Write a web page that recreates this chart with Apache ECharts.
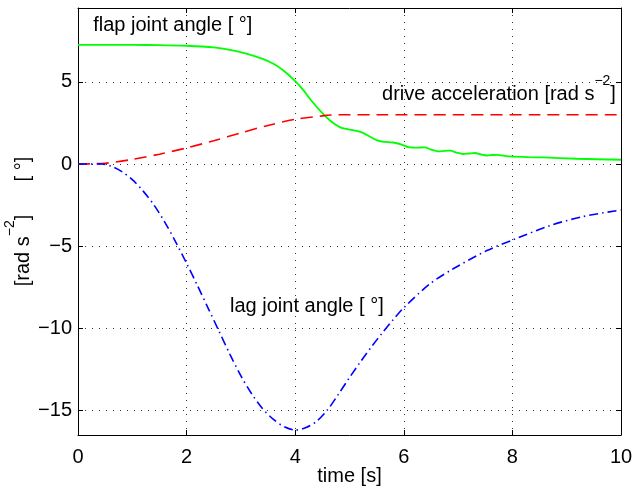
<!DOCTYPE html>
<html>
<head>
<meta charset="utf-8">
<script src="https://cdn.jsdelivr.net/npm/echarts@6/dist/echarts.min.js"></script>
<style>
  html, body { margin: 0; padding: 0; background: #fff; }
  #chart { width: 633px; height: 486px; }
</style>
</head>
<body>
<div id="chart"></div>
<script>
// flap joint angle [deg] vs time [s]
const flapTime = [0, 1.0, 1.5, 2.0, 2.5, 2.8, 3.1, 3.4, 3.6, 3.8, 4.0, 4.15, 4.3, 4.47, 4.64, 4.82, 5.0, 5.13, 5.25, 5.38, 5.5, 5.6, 5.8, 5.95, 6.11, 6.25, 6.39, 6.5, 6.63, 6.75, 6.85, 6.97, 7.09, 7.2, 7.31, 7.42, 7.53, 7.63, 7.72, 7.85, 7.96, 8.3, 8.57, 9.18, 10];
const flapAngle = [7.25, 7.25, 7.24, 7.2, 7.1, 6.95, 6.72, 6.4, 6.1, 5.65, 5.05, 4.5, 3.85, 3.2, 2.65, 2.25, 2.1, 2.02, 1.9, 1.66, 1.45, 1.36, 1.31, 1.2, 1.01, 1.0, 1.01, 0.88, 0.77, 0.8, 0.81, 0.7, 0.61, 0.64, 0.67, 0.58, 0.52, 0.55, 0.56, 0.5, 0.46, 0.42, 0.4, 0.32, 0.26];

// drive acceleration [rad s^-2]
const driveTime = [0, 0.5, 1.0, 1.5, 2.0, 2.5, 3.0, 3.5, 4.0, 4.5, 4.8, 5.5, 7, 8.5, 10];
const driveAcc = [0, 0.05, 0.28, 0.6, 0.98, 1.42, 1.9, 2.35, 2.72, 2.93, 3.0, 3.0, 3.0, 3.0, 3.0];

// lag joint angle [deg]
const lagTime = [0, 0.44, 0.6, 0.8, 1.0, 1.2, 1.4, 1.6, 1.8, 2.0, 2.2, 2.4, 2.6, 2.8, 3.0, 3.2, 3.4, 3.6, 3.8, 4.0, 4.2, 4.4, 4.6, 4.8, 5.0, 5.2, 5.4, 5.6, 5.8, 6.0, 6.48, 6.91, 7.53, 8.01, 8.69, 9.3, 10];
const lagAngle = [0, 0, -0.12, -0.45, -0.95, -1.65, -2.5, -3.55, -4.75, -6.05, -7.4, -8.8, -10.2, -11.6, -12.9, -14.0, -14.9, -15.55, -16.0, -16.2, -16.05, -15.65, -14.95, -14.0, -13.0, -12.05, -11.15, -10.3, -9.5, -8.75, -7.3, -6.38, -5.27, -4.62, -3.75, -3.2, -2.8];

const xTicks = [0, 2, 4, 6, 8, 10];
const yTicks = [-15, -10, -5, 0, 5];

const labels = [
  { text: '{t|flap joint angle [ °]}', at: [0.28, 8.76] },
  { text: '{t|drive acceleration [rad s}{sup|−2}{t|]}', at: [5.6, 4.56] },
  { text: '{t|lag joint angle [ °]}', at: [2.8, -8.35] }
];

const FONT = 'Liberation Sans, Arial, Helvetica, sans-serif';
const FS = 20;

function pairs(xs, ys) {
  return xs.map((x, i) => [x, ys[i]]);
}

const chart = echarts.init(document.getElementById('chart'), null, { renderer: 'canvas' });

const fmtNum = v => (v < 0 ? '−' + Math.abs(v) : String(v));

const richText = {
  t: { fontSize: FS, lineHeight: 30, verticalAlign: 'bottom', color: '#000', fontFamily: FONT },
  sup: { fontSize: 14, lineHeight: 14, verticalAlign: 'top', color: '#000', fontFamily: FONT }
};

const baseX = {
  type: 'value', min: 0, max: 10, interval: 2,
  axisLine: { show: true, onZero: false, lineStyle: { color: '#000', width: 1 } },
  axisTick: { show: true, inside: true, length: 5, lineStyle: { color: '#000' } }
};
const baseY = {
  type: 'value', min: -16.5, max: 9.5,
  axisLine: { show: true, onZero: false, lineStyle: { color: '#000', width: 1 } },
  axisTick: { show: true, inside: true, length: 5, lineStyle: { color: '#000' } }
};

chart.setOption({
  animation: false,
  backgroundColor: '#fff',
  textStyle: { fontFamily: FONT },
  grid: { left: 78, right: 12, top: 8, bottom: 51, containLabel: false, outerBoundsMode: 'none' },
  xAxis: [
    Object.assign({}, baseX, {
      position: 'bottom',
      name: 'time [s]', nameLocation: 'middle', nameGap: 31, nameMoveOverlap: false,
      nameTextStyle: { fontSize: FS, color: '#000', fontFamily: FONT, verticalAlign: 'top' },
      axisLabel: {
        fontSize: FS, color: '#000', margin: 12, fontFamily: FONT,
        formatter: v => (xTicks.includes(v) ? fmtNum(v) : '')
      },
      splitLine: { show: true, lineStyle: { color: '#333', type: [1, 6], width: 1 } }
    }),
    Object.assign({}, baseX, {
      position: 'top',
      axisLabel: { show: false },
      splitLine: { show: false }
    })
  ],
  yAxis: [
    Object.assign({}, baseY, {
      position: 'left',
      name: '{t|[rad s}{sup|−2}{t|]      [ °]}',
      nameLocation: 'middle', nameGap: 45, nameRotate: 90, nameMoveOverlap: false,
      nameTextStyle: { fontSize: FS, color: '#000', fontFamily: FONT, rich: richText },
      axisLabel: {
        fontSize: FS, color: '#000', margin: 6, fontFamily: FONT,
        showMinLabel: false, showMaxLabel: false,
        formatter: v => (yTicks.includes(v) ? fmtNum(v) : '')
      },
      splitLine: { show: true, lineStyle: { color: '#333', type: [1, 6], width: 1 } }
    }),
    Object.assign({}, baseY, {
      position: 'right',
      axisLabel: { show: false },
      splitLine: { show: false }
    })
  ],
  series: [
    {
      name: 'flap joint angle', type: 'line', data: pairs(flapTime, flapAngle),
      smooth: 0.25, showSymbol: false, symbol: 'none',
      lineStyle: { color: '#00ff00', width: 1.8, type: 'solid' }
    },
    {
      name: 'drive acceleration', type: 'line', data: pairs(driveTime, driveAcc),
      smooth: 0.3, showSymbol: false, symbol: 'none',
      lineStyle: { color: '#ff0000', width: 1.6, type: [12, 7] }
    },
    {
      name: 'lag joint angle', type: 'line', data: pairs(lagTime, lagAngle),
      smooth: 0.3, showSymbol: false, symbol: 'none',
      lineStyle: { color: '#0000ff', width: 1.6, type: [9, 4, 1.5, 4] }
    }
  ]
});

// text annotations anchored in data coordinates
chart.setOption({
  graphic: labels.map(l => {
    const p = chart.convertToPixel({ gridIndex: 0 }, l.at);
    return {
      type: 'text', x: p[0], y: p[1], z: 100,
      style: {
        text: l.text, fill: '#000', font: FS + 'px ' + FONT,
        verticalAlign: 'middle', align: 'left',
        rich: {
          t: { fontSize: FS, lineHeight: 30, verticalAlign: 'bottom', fill: '#000', fontFamily: FONT },
          sup: { fontSize: 14, lineHeight: 14, verticalAlign: 'top', fill: '#000', fontFamily: FONT }
        }
      }
    };
  })
});
</script>
</body>
</html>
